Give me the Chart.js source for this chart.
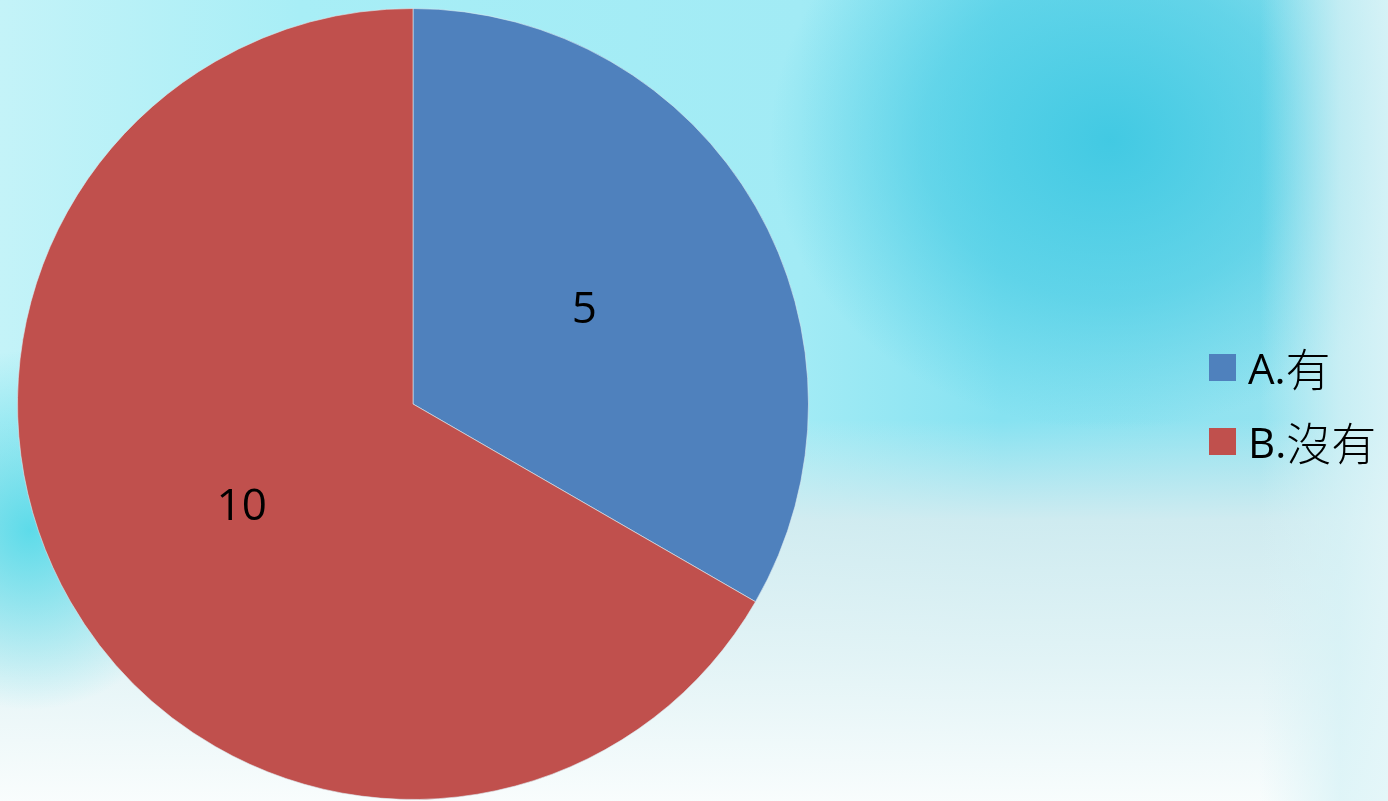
<!DOCTYPE html>
<html>
<head>
<meta charset="utf-8">
<script src="https://cdn.jsdelivr.net/npm/chart.js@4"></script>
<style>
  html, body { margin: 0; padding: 0; }
  body {
    width: 1388px; height: 801px; overflow: hidden; position: relative;
    background:
      linear-gradient(90deg, rgba(230,248,250,0) 1260px, rgba(215,242,246,0.75) 1340px, rgba(225,245,248,0.85) 1388px),
      radial-gradient(ellipse 340px 290px at 1110px 140px, rgba(62,200,226,0.95), rgba(62,200,226,0.55) 55%, rgba(62,200,226,0) 100%),
      radial-gradient(ellipse 170px 180px at 30px 530px, rgba(72,216,232,0.85), rgba(72,216,232,0) 100%),
      linear-gradient(180deg, rgba(255,255,255,0) 0px, rgba(255,255,255,0) 420px, rgba(214,236,240,0.9) 520px, rgba(230,244,246,0.95) 660px, rgba(250,253,253,0.98) 801px),
      linear-gradient(90deg, #c4f3f8 0px, #a8eef6 300px, #a2ebf5 800px, #86e2f1 1000px, #9ae3ef 1388px);
  }
  #wrap { position: absolute; left: 0; top: 0; width: 1388px; height: 801px; }
  #legend { position: absolute; left: 1209px; top: 330px; font-family: "Open Sans", "Noto Sans CJK TC", sans-serif; }
  #legend .item { display: flex; align-items: center; height: 74px; font-size: 42px; color: #000; }
  #legend .box { width: 27px; height: 27px; margin-right: 12px; }
  #legend .zh { font-family: "Noto Sans CJK TC", sans-serif; font-weight: 300; font-size: 45px; }
</style>
</head>
<body>
<div id="wrap"><canvas id="c" width="1388" height="801"></canvas></div>
<div id="legend"></div>
<script>
const categories = ['A.有', 'B.沒有']
const values = [5, 10]
const colors = ['#4F81BD', '#C0504D']

// value labels in the middle of each slice
const sliceLabels = {
  id: 'sliceLabels',
  afterDatasetsDraw(chart) {
    const ctx = chart.ctx
    const meta = chart.getDatasetMeta(0)
    ctx.save()
    ctx.font = '44px "Open Sans", "Liberation Sans", sans-serif'
    ctx.fillStyle = '#000'
    ctx.textAlign = 'center'
    ctx.textBaseline = 'middle'
    meta.data.forEach((arc, i) => {
      const p = arc.tooltipPosition()
      ctx.fillText(String(values[i]), p.x, p.y + 5)
    })
    ctx.restore()
  },
}

const chart = new Chart(document.getElementById('c'), {
  type: 'pie',
  data: {
    labels: categories,
    datasets: [
      {
        data: values,
        backgroundColor: colors,
        borderColor: 'rgba(220,235,240,0.6)',
        borderWidth: 1,
      },
    ],
  },
  options: {
    responsive: false,
    animation: false,
    layout: { padding: { left: 17, top: 8, right: 579, bottom: 1 } },
    plugins: {
      legend: { display: false },
      tooltip: { enabled: false },
    },
  },
  plugins: [sliceLabels],
})

// legend built from the same arrays
const legend = document.getElementById('legend')
categories.forEach((name, i) => {
  const item = document.createElement('div')
  item.className = 'item'
  const box = document.createElement('span')
  box.className = 'box'
  box.style.background = colors[i]
  const t1 = document.createElement('span')
  t1.textContent = name.slice(0, 2)
  const t2 = document.createElement('span')
  t2.className = 'zh'
  t2.textContent = name.slice(2)
  item.append(box, t1, t2)
  legend.appendChild(item)
})
</script>
</body>
</html>
